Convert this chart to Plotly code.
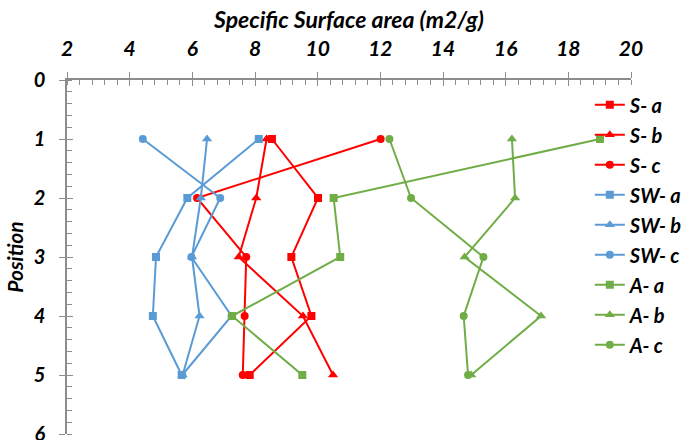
import plotly.graph_objects as go

# Specific surface area (m2/g) by sampling position
positions = [1, 2, 3, 4, 5]

s_a = [8.54, 10.01, 9.16, 9.80, 7.83]
s_b = [8.37, 8.04, 7.48, 9.53, 10.49]
s_c = [12.01, 6.15, 7.72, 7.67, 7.61]

sw_a = [8.12, 5.84, 4.84, 4.74, 5.66]
sw_b = [6.47, 6.27, 5.99, 6.23, 5.69]
sw_c = [4.42, 6.89, 5.97, 7.25, 5.68]

a_a = [19.01, 10.51, 10.72, 7.27, 9.51]
a_b = [16.20, 16.30, 14.69, 17.13, 14.90]
a_c = [12.29, 12.98, 15.29, 14.66, 14.80]

series_names = ["S- a", "S- b", "S- c", "SW- a", "SW- b", "SW- c", "A- a", "A- b", "A- c"]
series_values = [s_a, s_b, s_c, sw_a, sw_b, sw_c, a_a, a_b, a_c]

RED = "#FF0000"
BLUE = "#5B9BD5"
GREEN = "#70AD47"
colors = [RED, RED, RED, BLUE, BLUE, BLUE, GREEN, GREEN, GREEN]
symbols = ["square", "triangle-up", "circle"] * 3
sizes = {"square": 8, "triangle-up": 9, "circle": 8}

FONT = dict(family="Lato, Open Sans, sans-serif", color="black",
            weight="bold", style="italic")
AXIS_GREY = "#8C8C8C"

fig = go.Figure()
for i, (name, vals) in enumerate(zip(series_names, series_values)):
    fig.add_trace(go.Scatter(
        x=vals, y=positions, name=name, mode="lines+markers",
        line=dict(color=colors[i], width=2),
        marker=dict(symbol=symbols[i], size=sizes[symbols[i]], color=colors[i]),
        legendgroup=name,
    ))

# companion axes used only for the inner half of the major ticks
fig.add_trace(go.Scatter(x=[], y=[], xaxis="x2", yaxis="y2",
                         showlegend=False, hoverinfo="skip"))

common_axis = dict(showgrid=False, zeroline=False, showline=True,
                   linecolor=AXIS_GREY, linewidth=1.5, tickcolor=AXIS_GREY,
                   tickwidth=1.2, ticklabeloverflow="allow")

fig.update_layout(
    width=686, height=440,
    margin=dict(l=67, r=55, t=80, b=6, autoexpand=False),
    paper_bgcolor="white", plot_bgcolor="white",
    showlegend=True,
    legend=dict(x=0.927, xanchor="left", y=0.985, yanchor="top",
                font=dict(size=20, **FONT), tracegroupgap=1,
                bgcolor="rgba(0,0,0,0)", itemwidth=30),
    xaxis=dict(range=[2, 20], side="top", dtick=2, tick0=2,
               ticks="outside", ticklen=6,
               minor=dict(ticks="inside", dtick=0.4, ticklen=5,
                          tickcolor=AXIS_GREY, tickwidth=1),
               tickfont=dict(size=21, **FONT), ticklabelstandoff=8,
               title=dict(text="Specific Surface area (m2/g)",
                          font=dict(size=23, **FONT), standoff=0),
               **common_axis),
    yaxis=dict(range=[6, 0], dtick=1, ticks="outside", ticklen=6,
               minor=dict(ticks="inside", dtick=0.2, ticklen=5,
                          tickcolor=AXIS_GREY, tickwidth=1),
               tickfont=dict(size=20, **FONT), ticklabelstandoff=10,
               title=dict(text="Position", font=dict(size=21, **FONT),
                          standoff=4),
               **common_axis),
    xaxis2=dict(range=[2, 20], overlaying="x", side="top", anchor="y2",
                dtick=2, tick0=2, ticks="inside", ticklen=6,
                showticklabels=False, showline=False, showgrid=False,
                zeroline=False, tickcolor=AXIS_GREY, tickwidth=1.2),
    yaxis2=dict(range=[6, 0], overlaying="y", side="left", anchor="x2",
                dtick=1, ticks="inside", ticklen=6,
                showticklabels=False, showline=False, showgrid=False,
                zeroline=False, tickcolor=AXIS_GREY, tickwidth=1.2),
)

fig.write_html("out.html")
